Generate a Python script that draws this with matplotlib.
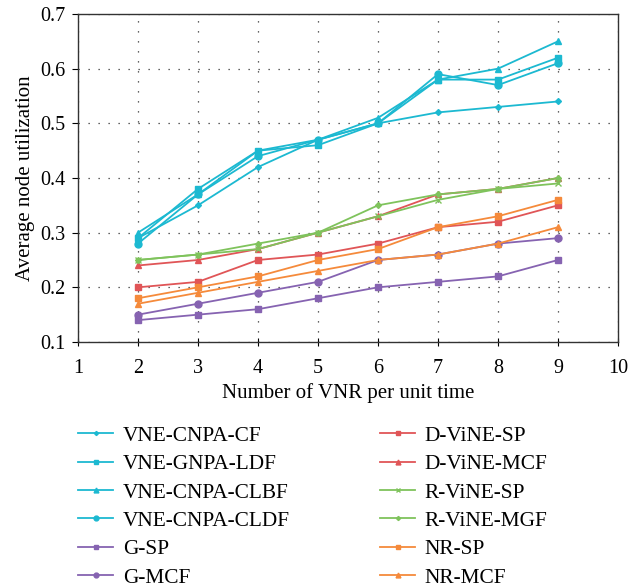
import matplotlib
matplotlib.use("Agg")
import matplotlib.pyplot as plt

plt.rcParams['font.family'] = ['Liberation Serif', 'DejaVu Serif']

x = [2, 3, 4, 5, 6, 7, 8, 9]

cnpa_cf = [0.29, 0.35, 0.42, 0.47, 0.50, 0.52, 0.53, 0.54]
gnpa_ldf = [0.29, 0.38, 0.45, 0.46, 0.50, 0.58, 0.58, 0.62]
cnpa_clbf = [0.30, 0.37, 0.45, 0.47, 0.51, 0.58, 0.60, 0.65]
cnpa_cldf = [0.28, 0.37, 0.44, 0.47, 0.50, 0.59, 0.57, 0.61]
g_sp = [0.14, 0.15, 0.16, 0.18, 0.20, 0.21, 0.22, 0.25]
g_mcf = [0.15, 0.17, 0.19, 0.21, 0.25, 0.26, 0.28, 0.29]
dvine_sp = [0.20, 0.21, 0.25, 0.26, 0.28, 0.31, 0.32, 0.35]
dvine_mcf = [0.24, 0.25, 0.27, 0.30, 0.33, 0.37, 0.38, 0.40]
rvine_sp = [0.25, 0.26, 0.27, 0.30, 0.33, 0.36, 0.38, 0.39]
rvine_mgf = [0.25, 0.26, 0.28, 0.30, 0.35, 0.37, 0.38, 0.40]
nr_sp = [0.18, 0.20, 0.22, 0.25, 0.27, 0.31, 0.33, 0.36]
nr_mcf = [0.17, 0.19, 0.21, 0.23, 0.25, 0.26, 0.28, 0.31]

cyan = '#1cb9d1'
purple = '#8663b1'
red = '#e05557'
green = '#7fc35c'
orange = '#f58a3b'

# legend order is column-major
series = [
    ("VNE-CNPA-CF", cnpa_cf, cyan, 'D', 3),
    ("VNE-GNPA-LDF", gnpa_ldf, cyan, 's', 5),
    ("VNE-CNPA-CLBF", cnpa_clbf, cyan, '^', 5),
    ("VNE-CNPA-CLDF", cnpa_cldf, cyan, 'o', 5),
    ("G-SP", g_sp, purple, 's', 5),
    ("G-MCF", g_mcf, purple, 'o', 5),
    ("D-ViNE-SP", dvine_sp, red, 's', 5),
    ("D-ViNE-MCF", dvine_mcf, red, '^', 5),
    ("R-ViNE-SP", rvine_sp, green, 'x', 4),
    ("R-ViNE-MGF", rvine_mgf, green, 'D', 3),
    ("NR-SP", nr_sp, orange, 's', 5),
    ("NR-MCF", nr_mcf, orange, '^', 5),
]

fig = plt.figure(figsize=(6.29, 5.86), dpi=100)
ax = fig.add_axes([0.124, 0.4164, 0.8585, 0.5597])

for label, y, c, m, ms in series:
    ax.plot(x, y, color=c, marker=m, markersize=ms, linewidth=1.3,
            markeredgewidth=1, label=label)

ax.set_xlim(1, 10)
ax.set_ylim(0.1, 0.7)
ax.set_xticks(range(1, 11))
ax.set_yticks([0.1, 0.2, 0.3, 0.4, 0.5, 0.6, 0.7])
ax.set_yticklabels(['0.1', '0.2', '0.3', '0.4', '0.5', '0.6', '0.7'])
ax.tick_params(axis='x', direction='inout', labelsize=14.5, length=6, pad=9)
ax.tick_params(axis='y', direction='out', labelsize=14.5, length=4, pad=5)
ax.grid(True, linestyle=(0, (1, 7)), color='#333333', linewidth=0.9)
for s in ax.spines.values():
    s.set_linewidth(1.0)
    s.set_color('#333333')

ax.set_xlabel("Number of VNR per unit time", fontsize=15, labelpad=4)
ax.set_ylabel("Average node utilization", fontsize=15, labelpad=4)

fig.legend(loc='upper left', bbox_to_anchor=(78 / 629, 1 - 426 / 586), ncol=2,
           frameon=False, fontsize=15.4, handlelength=1.65,
           columnspacing=4.2, labelspacing=0.39, handletextpad=0.45,
           borderaxespad=0, borderpad=0, markerscale=0.7)

fig.savefig("out.png", dpi=100)
